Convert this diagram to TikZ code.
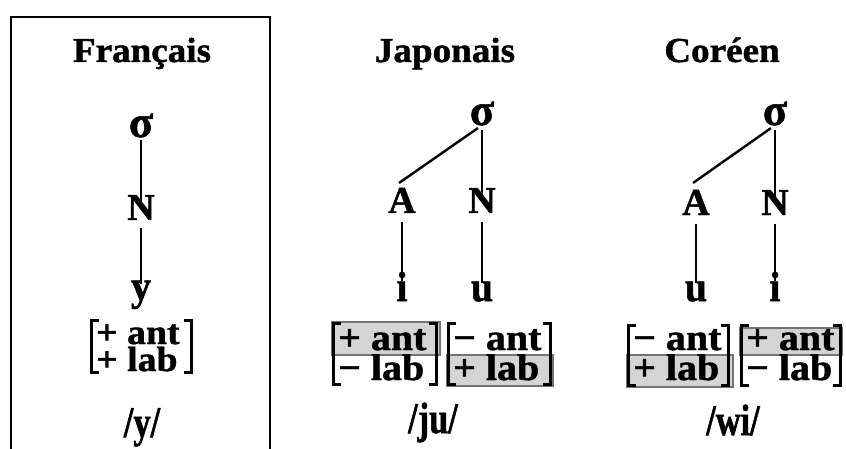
\documentclass[tikz,border=0pt]{standalone}
\usepackage{fontspec}
\setmainfont{Liberation Serif}[FakeBold=1.2]
\newfontfamily\ttlfont{Liberation Serif}[FakeStretch=1.06,FakeBold=1.2]
\newfontfamily\featfont{Liberation Serif}[FakeStretch=1.08,FakeBold=1.2]
\newfontfamily\segfont{Liberation Serif}[FakeStretch=0.95,FakeBold=1.2]
\newfontfamily\phonfont{Liberation Serif}[FakeStretch=0.78,FakeBold=1.2]
\usetikzlibrary{calc}
\newcommand\featbrack[4]{% x-left, x-right, y-top, y-bottom (outer edges)
  \draw[brk] ($(#1,#3)+(9,1.6)$) -- ($(#1,#3)+(1.6,1.6)$) -- ($(#1,#4)+(1.6,-1.6)$) -- ($(#1,#4)+(9,-1.6)$);
  \draw[brk] ($(#2,#3)+(-9,1.6)$) -- ($(#2,#3)+(-1.6,1.6)$) -- ($(#2,#4)+(-1.6,-1.6)$) -- ($(#2,#4)+(-9,-1.6)$);
}
\begin{document}
\begin{tikzpicture}[x=1pt,y=-1pt,
  ttl/.style={font=\ttlfont\fontsize{35}{35}\selectfont\bfseries, anchor=base, inner sep=0},
  sig/.style={font=\fontsize{45}{45}\selectfont\bfseries, anchor=base, inner sep=0, text height=0.44em, text depth=0pt},
  cat/.style={font=\fontsize{38}{38}\selectfont\bfseries, anchor=base, inner sep=0, text height=0.66em, text depth=0pt},
  seg/.style={font=\segfont\fontsize{42}{42}\selectfont\bfseries, anchor=base, inner sep=0, text height=0.46em, text depth=0pt},
  feat/.style={font=\featfont\fontsize{37}{30}\selectfont\bfseries, anchor=base west, inner sep=0, text height=0.55em, text depth=0pt},
  ffeat/.style={font=\featfont\fontsize{35}{27}\selectfont\bfseries, anchor=base west, inner sep=0, text height=0.55em, text depth=0pt},
  phon/.style={font=\phonfont\fontsize{44}{44}\selectfont\bfseries, anchor=base, inner sep=0},
  assoc/.style={line width=2.4pt},
  brk/.style={line width=3.4pt, miter limit=10},
  hilite/.style={draw=black!55, fill=black!17, line width=1.2pt},
]
\useasboundingbox (0,0) rectangle (846,449);
% frame
\draw[line width=1.3pt] (11,449) -- (11,17) -- (270,17) -- (270,449);

% titles
\node[ttl] (tfr) at (142,62) {Français};
\node[ttl] (tja) at (445,62) {Japonais};
\node[ttl] (tko) at (722,62) {Coréen};

% ---- French
\node[sig] (fs) at (141,137) {σ};
\node[cat] (fn) at (141,220) {N};
\node[seg] (fy) at (141,300) {y};
\draw[assoc, shorten <=3pt, shorten >=12pt] (fs.south) -- (fn.north);
\draw[assoc, shorten <=8pt, shorten >=11pt] (fn.south) -- (fy.north);
\featbrack{90}{193}{319}{374}
\node[ffeat] (fant) at (96,344) {+ ant};
\node[ffeat] (flab) at (96,371) {+ lab};
\node[phon] (fph) at (142,437) {/y/};

% ---- Japanese
\coordinate (jaj) at (399,183);
\node[sig] (js) at (482,125) {σ};
\node[cat] (ja) at (402,213) {A};
\node[cat] (jn) at (482,213) {N};
\node[seg] (ji) at (402,301) {i};
\node[seg] (ju) at (482,301) {u};
\draw[assoc, shorten <=5pt] (js.south) -- (jaj);
\draw[assoc, shorten <=5pt, shorten >=10pt] (js.south) -- (jn.north);
\draw[assoc, shorten <=9pt, shorten >=15pt] (ja.south) -- (ji.north);
\draw[assoc, shorten <=9pt, shorten >=13pt] (jn.south) -- (ju.north);
\draw[hilite] (332,322) rectangle (440,355);
\draw[hilite] (447,355) rectangle (553,386);
\featbrack{332}{438}{322}{386}
\featbrack{447}{552}{322}{386}
\node[feat] (jant1) at (338,350) {+ ant};
\node[feat] (jlab1) at (338,380) {− lab};
\node[feat] (jant2) at (453,350) {− ant};
\node[feat] (jlab2) at (453,380) {+ lab};
\node[phon] (jph) at (433,433) {/ju/};

% ---- Korean
\coordinate (kaj) at (693,183);
\node[sig] (ks) at (775,125) {σ};
\node[cat] (ka) at (696,215) {A};
\node[cat] (kn) at (775,215) {N};
\node[seg] (ku) at (696,301) {u};
\node[seg] (ki) at (775,301) {i};
\draw[assoc, shorten <=5pt] (ks.south) -- (kaj);
\draw[assoc, shorten <=5pt, shorten >=10pt] (ks.south) -- (kn.north);
\draw[assoc, shorten <=9pt, shorten >=13pt] (ka.south) -- (ku.north);
\draw[assoc, shorten <=9pt, shorten >=15pt] (kn.south) -- (ki.north);
\draw[hilite] (627,355) rectangle (733,387);
\draw[hilite] (740,328) rectangle (842,355);
\featbrack{627}{730}{324}{387}
\featbrack{740}{842}{324}{387}
\node[feat] (kant1) at (633,350) {− ant};
\node[feat] (klab1) at (633,380) {+ lab};
\node[feat] (kant2) at (746,350) {+ ant};
\node[feat] (klab2) at (746,380) {− lab};
\node[phon] (kph) at (733,435) {/wi/};
\end{tikzpicture}
\end{document}
